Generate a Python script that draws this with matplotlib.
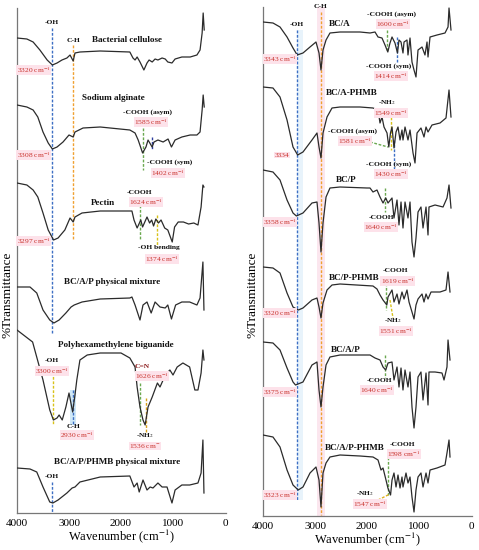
import numpy as np
import matplotlib.pyplot as plt

plt.rcParams['font.family'] = 'Liberation Serif'
plt.rcParams['mathtext.fontset'] = 'stix'

# ---- left panel: raw materials (wavenumber cm-1, relative transmittance a.u.)
bc_wn = [4000, 3810, 3690, 3560, 3420, 3320, 3230, 3135, 3040, 2980, 2920, 2885, 2790, 2400, 1830, 1770, 1730,
         1690, 1635, 1560, 1500, 1460, 1400, 1345, 1290, 1210, 1150, 1100, 1020, 960, 830, 670, 540, 480, 440, 420, 400]
bc_t = [32, 31, 28, 20, 10, 5, 7, 10, 12, 15, 9, 17, 18, 19, 18, 12, 10,
        13, 8, 0, 7, 10, 8, 11, 10, 12, 11, 8, 7, 11, 13, 13, 15, 20, 37, 57, 40]

sa_wn = [4000, 3810, 3690, 3600, 3500, 3400, 3320, 3230, 3115, 3000, 2920, 2885, 2730, 2400, 1830, 1730, 1670,
         1585, 1520, 1480, 1402, 1365, 1290, 1190, 1095, 1030, 960, 830, 670, 540, 480, 440, 420, 400]
sa_t = [48, 46, 43, 36, 21, 10, 4, 6, 11, 18, 16, 21, 25, 26, 23, 20, 13,
        0, 6, 13, 6, 11, 13, 11, 14, 6, 13, 16, 18, 18, 21, 43, 58, 46]

pec_wn = [4000, 3810, 3690, 3600, 3500, 3400, 3297, 3210, 3080, 2980, 2920, 2885, 2750, 2400, 1790, 1750, 1690,
          1620, 1585, 1500, 1450, 1410, 1374, 1330, 1280, 1230, 1160, 1100, 1015, 970, 900, 800, 700, 600, 520,
          460, 425, 405]
pec_t = [59, 57, 52, 45, 29, 12, 2, 4, 12, 24, 20, 25, 29, 31, 31, 22, 14,
         22, 15, 25, 19, 22, 16, 23, 19, 22, 14, 12, 0, 15, 20, 20, 18, 19, 17,
         35, 57, 55]

mix_wn = [4000, 3750, 3620, 3500, 3370, 3290, 3190, 3060, 2960, 2900, 2750, 2400, 1830, 1790, 1730, 1635,
          1577, 1500, 1420, 1345, 1250, 1150, 1100, 1030, 950, 830, 680, 540, 480, 425, 405]
mix_t = [36, 36, 30, 13, 3, 0, 3, 10, 16, 18, 21, 24, 25, 26, 18, 3,
         18, 21, 10, 21, 16, 15, 18, 4, 18, 21, 21, 18, 25, 61, 13]

phmb_wn = [4000, 3700, 3500, 3370, 3300, 3230, 3190, 3130, 3060, 3000, 2930, 2885, 2850, 2790, 2650, 2400,
           2000, 1830, 1730, 1690, 1635, 1577, 1536, 1480, 1400, 1300, 1250, 1190, 1115, 1060, 1000, 920, 810,
           680, 580, 520, 460, 425, 405]
phmb_t = [95, 83, 45, 15, 5, 7, 10, 5, 18, 32, 13, 30, 45, 65, 70, 72,
          72, 67, 58, 38, 18, 5, 0, 18, 28, 42, 38, 45, 52, 55, 50, 58, 62,
          58, 35, 35, 52, 75, 65]

mix2_wn = [4000, 3750, 3620, 3500, 3370, 3310, 3210, 3040, 2940, 2885, 2790, 2400, 1830, 1750, 1690, 1650,
           1577, 1500, 1440, 1385, 1290, 1210, 1115, 1020, 960, 830, 680, 520, 460, 425, 405]
mix2_t = [35, 34, 31, 16, 1, 0, 3, 10, 15, 16, 21, 26, 27, 16, 20, 11,
          23, 13, 16, 15, 20, 16, 16, 0, 13, 18, 18, 20, 30, 63, 10]

# ---- right panel: films
bca_wn = [4000, 3808, 3673, 3538, 3423, 3343, 3231, 3096, 2981, 2923, 2885, 2846, 2788, 2712, 2519, 2135,
          1942, 1846, 1788, 1712, 1654, 1600, 1558, 1519, 1462, 1414, 1385, 1346, 1308, 1288, 1231, 1212,
          1173, 1135, 1096, 1058, 1019, 942, 885, 846, 827, 788, 654, 500, 442, 423, 385]
bca_t = [55, 54, 50, 40, 29, 22, 24, 30, 35, 24, 7, 27, 37, 44, 45, 45,
         44, 45, 40, 39, 32, 25, 34, 40, 34, 24, 37, 35, 24, 35, 37, 22,
         39, 15, 7, 0, 27, 30, 22, 35, 20, 40, 42, 44, 50, 69, 47]

bcaph_wn = [4000, 3808, 3673, 3538, 3423, 3334, 3231, 3058, 2962, 2923, 2885, 2846, 2769, 2673, 2519, 2135,
            1885, 1788, 1750, 1712, 1673, 1615, 1581, 1549, 1519, 1481, 1442, 1404, 1365, 1327, 1308, 1269,
            1212, 1173, 1115, 1077, 1038, 962, 904, 865, 827, 750, 596, 481, 423, 385]
bcaph_t = [76, 75, 66, 43, 16, 8, 11, 23, 30, 16, 5, 30, 46, 55, 56, 56,
           55, 53, 40, 46, 36, 30, 16, 30, 36, 15, 31, 36, 23, 33, 23, 36,
           23, 33, 10, 0, 30, 35, 26, 36, 31, 38, 40, 45, 73, 46]

bcp_wn = [4000, 3808, 3673, 3538, 3423, 3358, 3231, 3058, 2962, 2923, 2885, 2846, 2788, 2712, 2519, 2000,
          1942, 1885, 1808, 1750, 1692, 1640, 1596, 1519, 1481, 1423, 1385, 1346, 1308, 1269, 1212, 1173,
          1135, 1096, 1058, 1019, 962, 923, 865, 827, 808, 692, 538, 462, 423, 385]
bcp_t = [87, 85, 77, 57, 44, 41, 44, 54, 55, 34, 5, 34, 60, 69, 70, 69,
         69, 65, 67, 60, 54, 59, 54, 59, 39, 57, 32, 55, 29, 55, 39, 55,
         15, 0, 19, 45, 50, 29, 50, 22, 50, 52, 50, 59, 72, 49]

bcpph_wn = [4000, 3808, 3673, 3538, 3423, 3320, 3231, 3058, 2962, 2923, 2885, 2846, 2769, 2673, 2519, 1885,
            1808, 1750, 1692, 1619, 1596, 1519, 1481, 1423, 1385, 1327, 1288, 1231, 1192, 1135, 1096, 1058,
            1019, 942, 904, 865, 827, 769, 596, 481, 442, 404]
bcpph_t = [52, 51, 46, 26, 12, 9, 11, 19, 21, 12, 1, 16, 29, 34, 35, 33,
           30, 24, 19, 14, 22, 29, 17, 25, 15, 27, 20, 29, 17, 7, 0, 14,
           20, 25, 17, 25, 20, 27, 27, 29, 47, 27]

bcap_wn = [4000, 3808, 3673, 3538, 3423, 3375, 3231, 3058, 2962, 2923, 2885, 2846, 2788, 2712, 2519, 2135,
           1942, 1846, 1750, 1692, 1640, 1596, 1519, 1481, 1423, 1385, 1346, 1308, 1269, 1212, 1173, 1135,
           1096, 1058, 1019, 962, 923, 865, 827, 808, 692, 558, 519, 462, 442, 404]
bcap_t = [86, 85, 78, 60, 46, 43, 46, 63, 66, 38, 21, 41, 63, 71, 73, 73,
          73, 70, 68, 61, 58, 65, 66, 48, 61, 41, 60, 38, 58, 41, 56, 21,
          0, 21, 51, 56, 28, 55, 23, 56, 56, 55, 48, 61, 88, 68]

bcapph_wn = [4000, 3808, 3673, 3538, 3423, 3323, 3231, 3096, 2981, 2923, 2885, 2846, 2788, 2712, 2519, 2135,
             1885, 1788, 1731, 1692, 1635, 1598, 1547, 1519, 1481, 1442, 1404, 1365, 1327, 1308, 1250, 1212,
             1173, 1135, 1096, 1058, 1019, 962, 923, 865, 827, 788, 654, 500, 462, 423, 404]
bcapph_t = [77, 75, 65, 42, 27, 22, 25, 39, 45, 32, 5, 39, 49, 55, 57, 56,
            55, 52, 42, 44, 32, 24, 17, 32, 39, 25, 37, 24, 35, 25, 39, 29,
            35, 15, 0, 22, 35, 39, 25, 39, 29, 42, 44, 47, 59, 72, 55]

ticks = [4000, 3000, 2000, 1000, 0]

RED = '#c8302a'
PINK = '#fde2ea'
BLUE = '#3d6fc4'
ORANGE = '#f0a030'
YELLOW = '#d8c21a'
GREEN = '#6aa84f'

fig = plt.figure(figsize=(4.79, 5.5), dpi=100)
ax1 = fig.add_axes([17/479, 37/550, 209/479, 505/550])
ax2 = fig.add_axes([263/479, 34/550, 209/479, 509/550])

left = [(bc_wn, bc_t), (sa_wn, sa_t), (pec_wn, pec_t), (mix_wn, mix_t), (phmb_wn, phmb_t), (mix2_wn, mix2_t)]
left_off = [443, 360, 271, 190, 88, 10]
right = [(bca_wn, bca_t), (bcaph_wn, bcaph_t), (bcp_wn, bcp_t), (bcpph_wn, bcpph_t), (bcap_wn, bcap_t),
         (bcapph_wn, bcapph_t)]
right_off = [439, 353, 259, 197, 88, 4]

for ax, spectra, offs, top in [(ax1, left, left_off, 505), (ax2, right, right_off, 509)]:
    for (wn, t), off in zip(spectra, offs):
        ax.plot(wn, np.array(t) + off, color='#2b2b2b', lw=0.9, zorder=3)
    ax.set_xlim(4000, -19)
    ax.set_ylim(0, top)
    ax.set_xticks(ticks)
    ax.set_xticklabels([str(v) for v in ticks], fontsize=8)
    ax.set_yticks([])
    ax.tick_params(axis='x', length=0, pad=4)
    for s in ['top', 'right']:
        ax.spines[s].set_visible(False)
    for s in ['left', 'bottom']:
        ax.spines[s].set_color('#777777')
        ax.spines[s].set_linewidth(0.9)
    ax.set_xlabel('Wavenumber (cm$^{-1}$)', fontsize=9, labelpad=0)

fig.text(8/479, 1 - 295/550, '%Transmittance', rotation=90, fontsize=9.5, ha='center', va='center')
fig.text(253/479, 1 - 295/550, '%Transmittance', rotation=90, fontsize=9.5, ha='center', va='center')


def dash(ax, w0, y0, y1, color, w1=None):
    ax.plot([w0, w0 if w1 is None else w1], [y0, y1], color=color, lw=1.0, ls=(0, (2, 1.2)), zorder=2)


def txt(ax, w, y, s, size=5.4, bold=True):
    ax.text(w, y, s, fontsize=size, ha='center', va='center', color='#111111',
            fontweight='bold' if bold else 'normal', zorder=5)


def num(ax, w, y, s, size=5.4):
    ax.text(w, y, s, fontsize=size, ha='center', va='center', color=RED, zorder=5,
            bbox=dict(boxstyle='square,pad=0.06', fc=PINK, ec='none'))


cm = ' cm$^{-1}$'

# left panel markers
dash(ax1, 3327, 485, 180, BLUE)
dash(ax1, 2923, 468, 273, ORANGE)
dash(ax1, 1577, 385, 343, GREEN)
dash(ax1, 1404, 376, 363, '#2f3f9f')
dash(ax1, 1635, 308, 273, GREEN)
dash(ax1, 1308, 298, 268, YELLOW)
dash(ax1, 3308, 141, 88, YELLOW)
ax1.axvspan(2980, 2870, ymin=88/505, ymax=123/505, color='#cfe8f7', lw=0, zorder=1)
dash(ax1, 2923, 123, 88, BLUE)
dash(ax1, 1635, 130, 88, GREEN)
dash(ax1, 1519, 115, 81, '#d8a01a')
dash(ax1, 3327, 31, 0, BLUE)

txt(ax1, 3327, 491, '-OH')
txt(ax1, 2923, 473, 'C-H')
txt(ax1, 1885, 473, 'Bacterial cellulose', 6.6)
num(ax1, 3683, 443, '3320' + cm)
txt(ax1, 2154, 415, 'Sodium alginate', 6.6)
txt(ax1, 1481, 401, '-COOH (asym)')
num(ax1, 1423, 391, '1585' + cm)
num(ax1, 3683, 358, '3308' + cm)
txt(ax1, 1058, 351, '-COOH (sym)')
num(ax1, 1096, 340, '1402' + cm)
txt(ax1, 2346, 310, 'Pectin', 6.6)
txt(ax1, 1654, 321, '-COOH')
num(ax1, 1519, 311, '1624' + cm)
num(ax1, 3683, 272, '3297' + cm)
txt(ax1, 1269, 265, '-OH bending')
num(ax1, 1212, 254, '1374' + cm)
txt(ax1, 2173, 231, 'BC/A/P physical mixture', 6.6)
txt(ax1, 2096, 168, 'Polyhexamethylene biguanide', 6.6)
txt(ax1, 3327, 152, '-OH')
num(ax1, 3327, 142, '3300' + cm)
txt(ax1, 2923, 87, 'C-H')
num(ax1, 2846, 78, '2930' + cm)
ax1.text(1596, 146, 'C=N', fontsize=5.4, fontweight='bold', ha='center', va='center', color='#8b1a1a', zorder=5)
num(ax1, 1404, 137, '1626' + cm)
txt(ax1, 1538, 77, '-NH$_2$')
num(ax1, 1538, 67, '1536 cm$^{-}$')
txt(ax1, 2077, 51, 'BC/A/P/PHMB physical mixture', 6.6)
txt(ax1, 3327, 37, '-OH')

# right panel markers
ax2.axvspan(2960, 2810, color='#fbe6ee', lw=0, zorder=0)
ax2.axvspan(3346, 3231, ymin=16/509, ymax=486/509, color='#e8f3fb', lw=0, zorder=0)
dash(ax2, 3346, 486, 16, BLUE)
dash(ax2, 2885, 504, 1, ORANGE)
dash(ax2, 1615, 486, 464, GREEN)
dash(ax2, 1423, 479, 454, BLUE)
dash(ax2, 1538, 399, 366, YELLOW)
dash(ax2, 1481, 376, 346, BLUE)
dash(ax2, 1942, 374, 369, GREEN, 1596)
dash(ax2, 1654, 328, 304, GREEN)
dash(ax2, 1635, 233, 206, GREEN)
dash(ax2, 1558, 216, 198, YELLOW, 1500)
dash(ax2, 1654, 161, 138, GREEN)
dash(ax2, 1596, 59, 21, GREEN)
dash(ax2, 1788, 16, 22, '#e0b020', 1558)

txt(ax2, 2885, 509, 'C-H')
txt(ax2, 3346, 492, '-OH')
txt(ax2, 2519, 492, 'BC/A', 6.6)
txt(ax2, 1538, 502, '-COOH (asym)')
num(ax2, 1500, 492, '1600' + cm)
num(ax2, 3673, 457, '3343' + cm)
txt(ax2, 1577, 450, '-COOH (sym)')
num(ax2, 1538, 440, '1414' + cm)
txt(ax2, 2288, 423, 'BC/A-PHMB', 6.6)
txt(ax2, 1615, 413, '-NH$_2$')
num(ax2, 1538, 403, '1549' + cm)
txt(ax2, 2288, 385, '-COOH (asym)')
num(ax2, 2231, 375, '1581' + cm)
num(ax2, 3635, 361, '3334')
txt(ax2, 1577, 352, '-COOH (sym)')
num(ax2, 1538, 342, '1430' + cm)
txt(ax2, 2404, 336, 'BC/P', 6.6)
txt(ax2, 1731, 299, '-COOH')
num(ax2, 1731, 289, '1640' + cm)
num(ax2, 3673, 294, '3358' + cm)
txt(ax2, 2240, 238, 'BC/P-PHMB', 6.6)
txt(ax2, 1462, 245, '-COOH')
num(ax2, 1413, 235, '1619' + cm)
num(ax2, 3673, 203, '3320' + cm)
txt(ax2, 1500, 195, '-NH$_2$')
num(ax2, 1442, 185, '1551' + cm)
txt(ax2, 2404, 166, 'BC/A/P', 6.6)
txt(ax2, 1769, 136, '-COOH')
num(ax2, 1808, 126, '1640' + cm)
num(ax2, 3673, 124, '3375' + cm)
txt(ax2, 2231, 68, 'BC/A/P-PHMB', 6.6)
txt(ax2, 1327, 72, '-COOH')
num(ax2, 1288, 62, '1598' + cm)
num(ax2, 3673, 21, '3323' + cm)
txt(ax2, 2039, 22, '-NH$_2$')
num(ax2, 1942, 12, '1547' + cm)

fig.savefig('out.png', dpi=100)
